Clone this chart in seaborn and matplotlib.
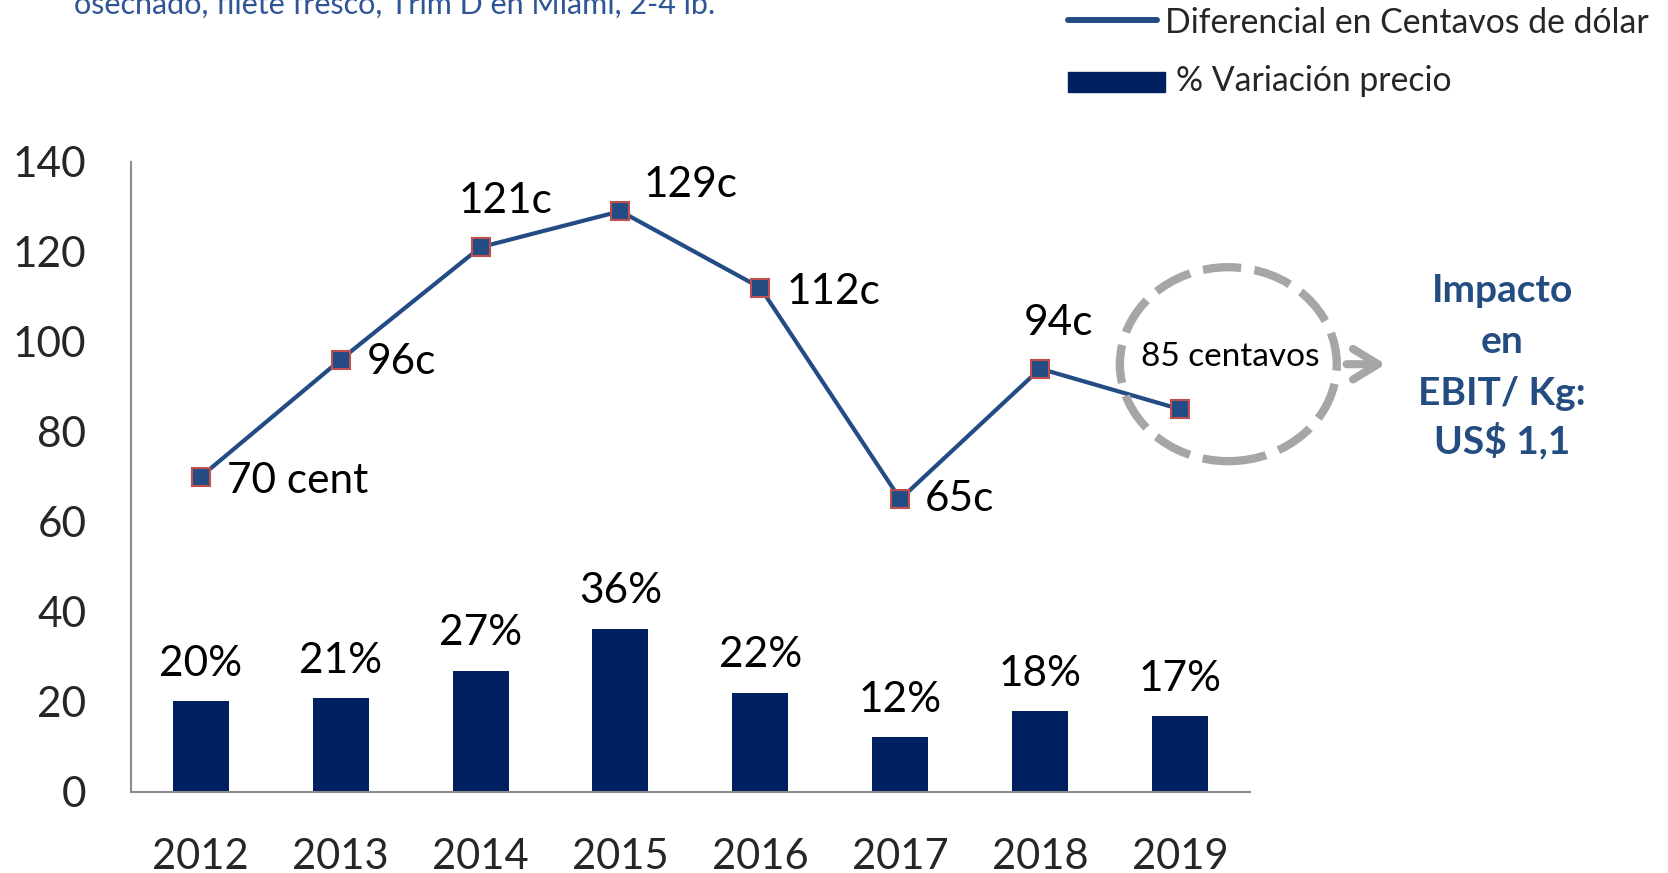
import numpy as np
import seaborn as sns
import matplotlib.pyplot as plt
from matplotlib.patches import Ellipse, Rectangle
from matplotlib.lines import Line2D

# datos
years = ['2012', '2013', '2014', '2015', '2016', '2017', '2018', '2019']
diferencial = [70, 96, 121, 129, 112, 65, 94, 85]
diff_labels = ['70 cent', '96c', '121c', '129c', '112c', '65c', '94c', '']
variacion = [20.1, 20.8, 26.9, 36.2, 22.0, 12.1, 17.9, 16.8]
var_labels = ['20%', '21%', '27%', '36%', '22%', '12%', '18%', '17%']
yticks = [0, 20, 40, 60, 80, 100, 120, 140]
titulo = 'osechado, filete fresco, Trim D en Miami, 2-4 lb.'
leyenda = ['Diferencial en Centavos de dólar', '% Variación precio']
impacto = ['Impacto', 'en', 'EBIT/ Kg:', 'US$ 1,1']
circulo_txt = '85 centavos'

line_color = '#244C84'
bar_color = '#002060'
edge_red = '#C0504D'
gris = '#A6A6A6'
azul_txt = '#234C80'

sns.set_style('white')
plt.rcParams['font.family'] = ['Lato', 'DejaVu Sans']

fig = plt.figure(figsize=(16.68, 8.73), dpi=100)
ax = fig.add_axes([0.0784, 0.0931, 0.6710, 0.7217])

sns.barplot(x=years, y=variacion, color=bar_color, width=0.4, saturation=1,
            linewidth=0, ax=ax, zorder=2)
sns.pointplot(x=years, y=diferencial, color=line_color, errorbar=None,
              markers='s', linewidth=3, markersize=13, markeredgewidth=1.5,
              markeredgecolor=edge_red, markerfacecolor=line_color, ax=ax, zorder=3)

ax.set_ylim(0, 140)
ax.set_xlim(-0.5, 7.5)
ax.set_yticks(yticks)
ax.set_xlabel('')
ax.set_ylabel('')
ax.set_xticks(np.arange(-0.5, 8, 1), minor=True)
ax.tick_params(axis='x', which='major', length=0, pad=33, labelsize=30)
ax.tick_params(axis='x', which='minor', length=11, width=1.5, color='#8C8C8C', direction='out')
ax.tick_params(axis='y', length=10, width=1.5, color='#8C8C8C', direction='out', pad=22, labelsize=30.5)
for s in ['top', 'right']:
    ax.spines[s].set_visible(False)
for s in ['left', 'bottom']:
    ax.spines[s].set_color('#8C8C8C')
    ax.spines[s].set_linewidth(1.5)

# etiquetas de la linea
offsets = [(19, -3, 'left'), (19, -2, 'left'), (18, 33, 'center'), (17, 19, 'left'),
           (19, -3, 'left'), (18, 0, 'left'), (13, 33, 'center'), (0, 0, 'left')]
for i, (lab, (dx, dy, ha)) in enumerate(zip(diff_labels, offsets)):
    ax.annotate(lab, (i, diferencial[i]), xytext=(dx, dy), textcoords='offset points',
                ha=ha, va='center', fontsize=30.5, color='black')

# etiquetas de barras
for i, lab in enumerate(var_labels):
    ax.annotate(lab, (i, variacion[i]), xytext=(0, 27), textcoords='offset points',
                ha='center', va='center', fontsize=30.5, color='black')

# circulo y flecha
ax.add_patch(Ellipse((7.345, 95.0), 1.55, 43.1, fill=False, edgecolor=gris, lw=6,
                     linestyle=(0, (4.6, 1.6)), clip_on=False, zorder=4))
ax.text(7.36, 96.7, circulo_txt, ha='center', va='center', fontsize=24, color='black')
ax.annotate('', xy=(8.47, 95), xytext=(8.19, 95),
            arrowprops=dict(arrowstyle='->,head_length=1.8,head_width=1.1', lw=5.8,
                            color=gris, shrinkA=0, shrinkB=0, capstyle='round'),
            annotation_clip=False)

# texto impacto
for txt, yb in zip(impacto, [0.6544, 0.5956, 0.5361, 0.4811]):
    fig.text(0.9005, yb, txt, ha='center', va='baseline', fontsize=28,
             fontweight='bold', color=azul_txt)

# titulo recortado
fig.text(0.4287, 0.984, titulo, ha='right', va='baseline', fontsize=22, color='#2F5597')

# leyenda
fig.add_artist(Line2D([0.6403, 0.6937], [0.9771, 0.9771], color=line_color, lw=4.3,
                      solid_capstyle='round', transform=fig.transFigure))
fig.text(0.6984, 0.9622, leyenda[0], ha='left', va='baseline', fontsize=24.3)
fig.add_artist(Rectangle((0.6403, 0.8946), 0.05815, 0.0229, color=bar_color,
                         transform=fig.transFigure))
fig.text(0.705, 0.8958, leyenda[1], ha='left', va='baseline', fontsize=24.3)

fig.savefig('out.png', dpi=100)
